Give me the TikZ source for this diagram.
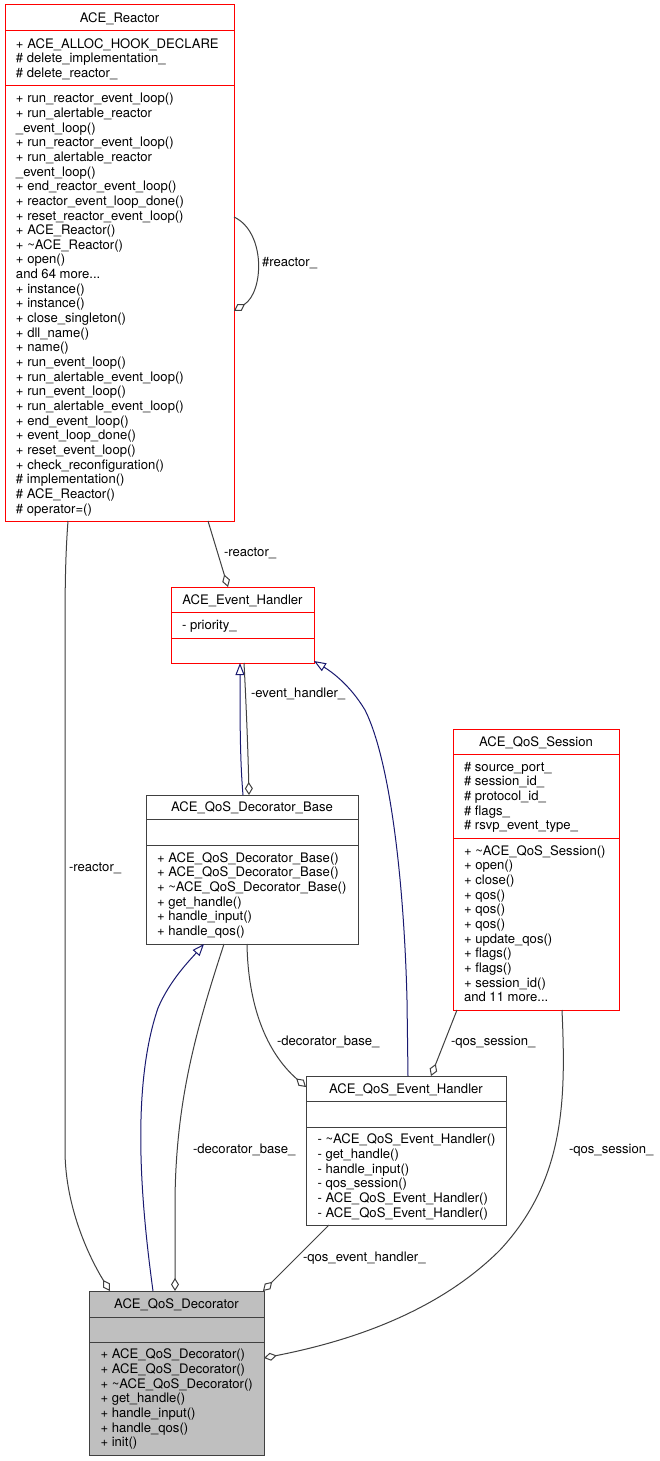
\documentclass[tikz,border=0pt]{standalone}
\usepackage{fontspec}
\setmainfont{TeX Gyre Heros}
\usetikzlibrary{arrows.meta,calc}
\definecolor{edgegray}{HTML}{404040}
\definecolor{inhblue}{HTML}{191970}
\definecolor{decofill}{HTML}{BFBFBF}
\newcommand{\tl}{\textasciitilde}
\tikzset{
  cls/.style={anchor=north west, inner sep=0pt, outer sep=0pt, line width=1pt},
  redcls/.style={cls, draw=red},
  blkcls/.style={cls, draw=edgegray},
  txt/.style={font=\fontsize{13.1}{14.65}\selectfont, inner sep=0pt, outer sep=0pt},
  memb/.style={txt, anchor=west, align=left, yshift=-2.5pt},
  ttl/.style={txt, anchor=center, yshift=-1pt},
  elabel/.style={txt, anchor=west},
  agg/.style={draw=edgegray, line width=1pt, -{Diamond[open,fill=white,length=13pt,width=8pt]}},
  inh/.style={draw=inhblue, line width=1pt, -{Triangle[open,fill=white,length=12pt,width=9pt]}},
  sepred/.style={draw=red, line width=1pt},
  sepblk/.style={draw=edgegray, line width=1pt},
}
\newcommand{\sepline}[3]{\draw[#3] ($(#1.north west)+(0,#2)$) -- ($(#1.north east)+(0,#2)$);}
\begin{document}
\begin{tikzpicture}[x=1pt,y=-1pt]
\useasboundingbox (0,0) rectangle (660,1461);
\fill[white] (0,0) rectangle (660,1461);

% ---------------- ACE_Reactor
\node[redcls, minimum width=229pt, minimum height=516pt] (reactor) at (5,5) {};
\sepline{reactor}{26}{sepred}
\sepline{reactor}{81}{sepred}
\node[ttl] (reactor-t) at ($(reactor.north)+(0,13)$) {ACE\_Reactor};
\node[memb] (reactor-a) at ($(reactor.north west)+(11,52.5)$) {\strut+ ACE\_ALLOC\_HOOK\_DECLARE\\\strut\# delete\_implementation\_\\\strut\# delete\_reactor\_};
\node[memb] (reactor-m) at ($(reactor.north west)+(11,297.5)$) {\strut+ run\_reactor\_event\_loop()\\\strut+ run\_alertable\_reactor\\\strut\_event\_loop()\\\strut+ run\_reactor\_event\_loop()\\\strut+ run\_alertable\_reactor\\\strut\_event\_loop()\\\strut+ end\_reactor\_event\_loop()\\\strut+ reactor\_event\_loop\_done()\\\strut+ reset\_reactor\_event\_loop()\\\strut+ ACE\_Reactor()\\\strut+ \tl ACE\_Reactor()\\\strut+ open()\\\strut and 64 more...\\\strut+ instance()\\\strut+ instance()\\\strut+ close\_singleton()\\\strut+ dll\_name()\\\strut+ name()\\\strut+ run\_event\_loop()\\\strut+ run\_alertable\_event\_loop()\\\strut+ run\_event\_loop()\\\strut+ run\_alertable\_event\_loop()\\\strut+ end\_event\_loop()\\\strut+ event\_loop\_done()\\\strut+ reset\_event\_loop()\\\strut+ check\_reconfiguration()\\\strut\# implementation()\\\strut\# ACE\_Reactor()\\\strut\# operator=()};

% ---------------- ACE_Event_Handler
\node[redcls, minimum width=143pt, minimum height=76pt] (evh) at (171,587) {};
\sepline{evh}{25}{sepred}
\sepline{evh}{51}{sepred}
\node[ttl] (evh-t) at ($(evh.north)+(0,12.5)$) {ACE\_Event\_Handler};
\node[memb] (evh-a) at ($(evh.north west)+(11,37)$) {\strut- priority\_};

% ---------------- ACE_QoS_Decorator_Base
\node[blkcls, minimum width=212pt, minimum height=149pt] (base) at (146,795) {};
\sepline{base}{24}{sepblk}
\sepline{base}{50}{sepblk}
\node[ttl] (base-t) at ($(base.north)+(0,12)$) {ACE\_QoS\_Decorator\_Base};
\node[memb] (base-m) at ($(base.north west)+(11,98.5)$) {\strut+ ACE\_QoS\_Decorator\_Base()\\\strut+ ACE\_QoS\_Decorator\_Base()\\\strut+ \tl ACE\_QoS\_Decorator\_Base()\\\strut+ get\_handle()\\\strut+ handle\_input()\\\strut+ handle\_qos()};

% ---------------- ACE_QoS_Session
\node[redcls, minimum width=166pt, minimum height=281pt] (session) at (453,729) {};
\sepline{session}{25}{sepred}
\sepline{session}{109}{sepred}
\node[ttl] (session-t) at ($(session.north)+(0,12.5)$) {ACE\_QoS\_Session};
\node[memb] (session-a) at ($(session.north west)+(11,66)$) {\strut\# source\_port\_\\\strut\# session\_id\_\\\strut\# protocol\_id\_\\\strut\# flags\_\\\strut\# rsvp\_event\_type\_};
\node[memb] (session-m) at ($(session.north west)+(11,194)$) {\strut+ \tl ACE\_QoS\_Session()\\\strut+ open()\\\strut+ close()\\\strut+ qos()\\\strut+ qos()\\\strut+ qos()\\\strut+ update\_qos()\\\strut+ flags()\\\strut+ flags()\\\strut+ session\_id()\\\strut and 11 more...};

% ---------------- ACE_QoS_Event_Handler
\node[blkcls, minimum width=200pt, minimum height=149pt] (qeh) at (306,1076) {};
\sepline{qeh}{25}{sepblk}
\sepline{qeh}{51}{sepblk}
\node[ttl] (qeh-t) at ($(qeh.north)+(0,12.5)$) {ACE\_QoS\_Event\_Handler};
\node[memb] (qeh-m) at ($(qeh.north west)+(11.5,99)$) {\strut- \tl ACE\_QoS\_Event\_Handler()\\\strut- get\_handle()\\\strut- handle\_input()\\\strut- qos\_session()\\\strut- ACE\_QoS\_Event\_Handler()\\\strut- ACE\_QoS\_Event\_Handler()};

% ---------------- ACE_QoS_Decorator
\node[blkcls, fill=decofill, minimum width=175pt, minimum height=164pt] (deco) at (89,1291) {};
\sepline{deco}{26}{sepblk}
\sepline{deco}{51}{sepblk}
\node[ttl] (deco-t) at ($(deco.north)+(0,13)$) {ACE\_QoS\_Decorator};
\node[memb] (deco-m) at ($(deco.north west)+(11.5,106.5)$) {\strut+ ACE\_QoS\_Decorator()\\\strut+ ACE\_QoS\_Decorator()\\\strut+ \tl ACE\_QoS\_Decorator()\\\strut+ get\_handle()\\\strut+ handle\_input()\\\strut+ handle\_qos()\\\strut+ init()};

% ---------------- connectors
% self loop #reactor_
\draw[agg] ($(reactor.north east)+(0,212)$) .. controls (266,232) and (264,292) .. ($(reactor.north east)+(0,306)$);
\node[elabel] (l-selfreactor) at (262,263) {\#reactor\_};

% -reactor_ : reactor -> event handler
\draw[agg] ($(reactor.south west)+(203,0)$) -- ($(evh.north west)+(57,0)$);
\node[elabel] (l-reactor1) at (224,553) {-reactor\_};

% -reactor_ : reactor -> decorator
\draw[agg] ($(reactor.south west)+(63,0)$) .. controls (65,560) and (65,600) .. (65,640) -- (65,1150) .. controls (65,1210) and (92,1262) .. ($(deco.north west)+(21,0)$);
\node[elabel] (l-reactor2) at (69,868) {-reactor\_};

% inheritance base -> event handler
\draw[inh] ($(base.north west)+(97,0)$) .. controls (240,760) and (240,720) .. ($(evh.south west)+(69,0)$);
% -event_handler_
\draw[agg] ($(evh.south west)+(73,0)$) .. controls (246,700) and (248,750) .. ($(base.north west)+(103,0)$);
\node[elabel] (l-evh) at (251,694) {-event\_handler\_};

% inheritance decorator -> base
\draw[inh] ($(deco.north west)+(64,0)$) .. controls (142,1210) and (130,1090) .. (158,1008) .. controls (170,980) and (190,960) .. ($(base.south west)+(58,0)$);
% -decorator_base_ : base -> decorator
\draw[agg] ($(base.south west)+(78,0)$) .. controls (196,1030) and (176,1100) .. (175,1200) -- ($(deco.north west)+(86,0)$);
\node[elabel] (l-db1) at (193,1150) {-decorator\_base\_};

% -decorator_base_ : base -> qos event handler
\draw[agg] ($(base.south west)+(101,0)$) .. controls (248,1005) and (266,1052) .. ($(qeh.north west)+(0,11)$);
\node[elabel] (l-db2) at (277,1042) {-decorator\_base\_};

% inheritance qos event handler -> event handler
\draw[inh] ($(qeh.north west)+(102,0)$) -- (407,1000) .. controls (404,880) and (390,760) .. (365,710) .. controls (350,685) and (332,672) .. ($(evh.south east)+(0,-2)$);

% -qos_session_ : session -> qos event handler
\draw[agg] ($(session.south west)+(4,0)$) -- ($(qeh.north west)+(125,0)$);
\node[elabel] (l-qs1) at (451,1042) {-qos\_session\_};

% -qos_event_handler_ : qos event handler -> decorator
\draw[agg] ($(qeh.south west)+(23,0)$) -- ($(deco.north east)+(-1,0)$);
\node[elabel] (l-qeh) at (303,1258) {-qos\_event\_handler\_};

% -qos_session_ : session -> decorator
\draw[agg] ($(session.south west)+(109,0)$) .. controls (566,1100) and (565,1180) .. (500,1250) .. controls (430,1320) and (330,1345) .. ($(deco.north east)+(0,67)$);
\node[elabel] (l-qs2) at (569,1150) {-qos\_session\_};
\end{tikzpicture}
\end{document}
